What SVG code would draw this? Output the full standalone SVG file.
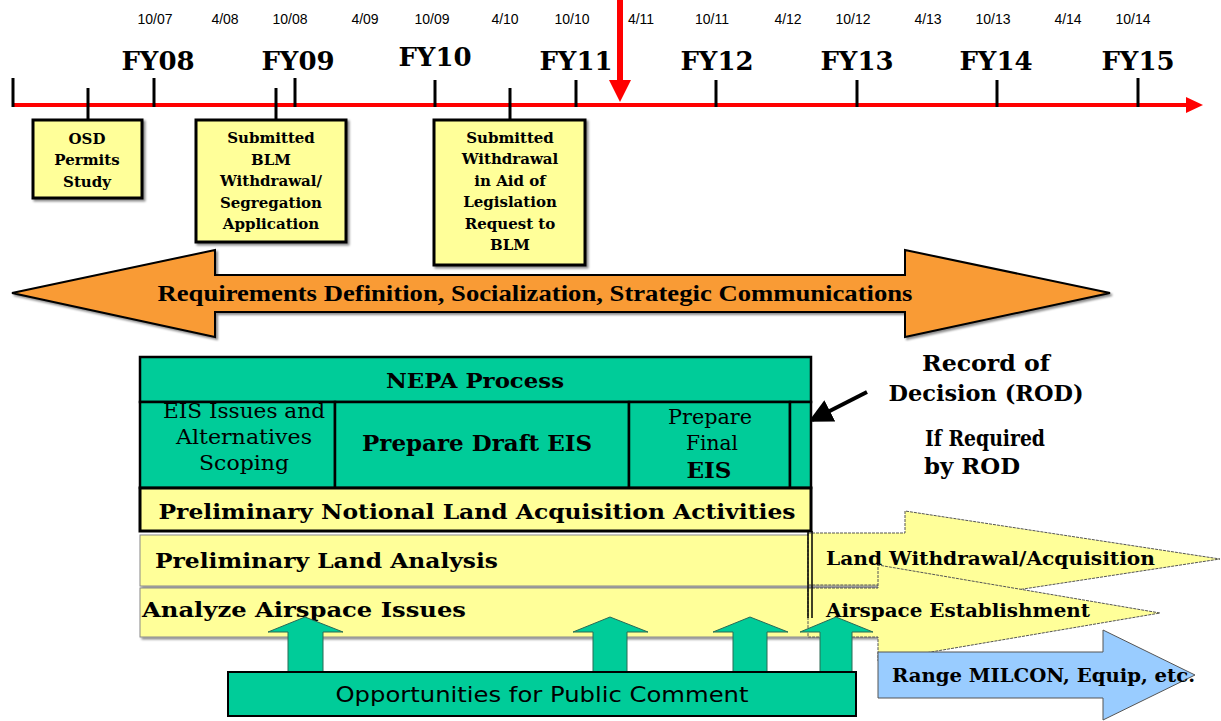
<svg xmlns="http://www.w3.org/2000/svg" width="1221" height="721" viewBox="0 0 1221 721">
<defs>
<style>
.date{font-family:"Liberation Sans",Arial,sans-serif;font-size:14px;fill:#000;text-anchor:middle}
.fy{font-family:"DejaVu Serif",serif;font-weight:bold;font-size:26px;fill:#000;text-anchor:middle}
.bx{font-family:"DejaVu Serif",serif;font-weight:bold;font-size:15px;fill:#000;text-anchor:middle}
.bold{font-family:"DejaVu Serif",serif;font-weight:bold;fill:#000}
.reg{font-family:"DejaVu Serif",serif;fill:#000}
.tick{stroke:#000;stroke-width:3}
.ybox{fill:#FFFF99;stroke:#000;stroke-width:3}
.teal{fill:#00CC99;stroke:#000;stroke-width:2.5}
.bar{fill:#FFFF99;stroke:#8a8a8a;stroke-width:1}
.up{fill:#00CC99;stroke:#2a6a55;stroke-width:1}
</style>
<filter id="sh" x="-5%" y="-5%" width="112%" height="115%">
<feDropShadow dx="2" dy="2" stdDeviation="1" flood-color="#000" flood-opacity="0.45"/>
</filter>
<marker id="ah" markerWidth="6" markerHeight="6" refX="5" refY="3" orient="auto" markerUnits="strokeWidth">
<path d="M0,0 L6,3 L0,6 z" fill="#000"/>
</marker>
</defs>

<g id="timeline">
<line x1="12" y1="105" x2="1190" y2="105" stroke="#FF0000" stroke-width="4"/>
<polygon points="1186,97 1203,105 1186,113" fill="#FF0000"/>
<line class="tick" x1="13" y1="78" x2="13" y2="107"/>
<line class="tick" x1="154" y1="78" x2="154" y2="107"/>
<line class="tick" x1="295" y1="78" x2="295" y2="107"/>
<line class="tick" x1="435" y1="80" x2="435" y2="107"/>
<line class="tick" x1="576" y1="80" x2="576" y2="107"/>
<line class="tick" x1="716" y1="80" x2="716" y2="107"/>
<line class="tick" x1="857" y1="80" x2="857" y2="107"/>
<line class="tick" x1="997" y1="80" x2="997" y2="107"/>
<line class="tick" x1="1138" y1="78" x2="1138" y2="107"/>
<text class="date" x="155" y="24">10/07</text>
<text class="date" x="225" y="24">4/08</text>
<text class="date" x="290" y="24">10/08</text>
<text class="date" x="365" y="24">4/09</text>
<text class="date" x="432" y="24">10/09</text>
<text class="date" x="505" y="24">4/10</text>
<text class="date" x="572" y="24">10/10</text>
<text class="date" x="641" y="24">4/11</text>
<text class="date" x="712" y="24">10/11</text>
<text class="date" x="788" y="24">4/12</text>
<text class="date" x="853" y="24">10/12</text>
<text class="date" x="928" y="24">4/13</text>
<text class="date" x="993" y="24">10/13</text>
<text class="date" x="1068" y="24">4/14</text>
<text class="date" x="1133" y="24">10/14</text>
<text class="fy" x="158" y="70">FY08</text>
<text class="fy" x="298" y="70">FY09</text>
<text class="fy" x="435" y="66">FY10</text>
<text class="fy" x="576" y="70">FY11</text>
<text class="fy" x="717" y="70">FY12</text>
<text class="fy" x="857" y="70">FY13</text>
<text class="fy" x="996" y="70">FY14</text>
<text class="fy" x="1138" y="70">FY15</text>
<line x1="620" y1="0" x2="620" y2="84" stroke="#FF0000" stroke-width="6"/>
<polygon points="609,80 631,80 620,102" fill="#FF0000"/>
</g>

<g id="connectors">
<line class="tick" x1="88" y1="88" x2="88" y2="120"/>
<line class="tick" x1="276" y1="88" x2="276" y2="120"/>
<line class="tick" x1="510" y1="88" x2="510" y2="120"/>
<line x1="867" y1="392" x2="812" y2="420" stroke="#000" stroke-width="4" marker-end="url(#ah)"/>
</g>

<g id="osd">
<rect class="ybox" x="33" y="120" width="109" height="78" filter="url(#sh)"/>
<text class="bx" x="87" y="144">OSD</text>
<text class="bx" x="87" y="165">Permits</text>
<text class="bx" x="87" y="187">Study</text>
</g>

<g id="blm">
<rect class="ybox" x="196" y="120" width="150" height="122" filter="url(#sh)"/>
<text class="bx" x="271" y="143">Submitted</text>
<text class="bx" x="271" y="165">BLM</text>
<text class="bx" x="271" y="186">Withdrawal/</text>
<text class="bx" x="271" y="208">Segregation</text>
<text class="bx" x="271" y="229">Application</text>
</g>

<g id="withdrawal">
<rect class="ybox" x="434" y="120" width="151" height="145" filter="url(#sh)"/>
<text class="bx" x="510" y="143">Submitted</text>
<text class="bx" x="510" y="164">Withdrawal</text>
<text class="bx" x="510" y="186">in Aid of</text>
<text class="bx" x="510" y="207">Legislation</text>
<text class="bx" x="510" y="229">Request to</text>
<text class="bx" x="510" y="250">BLM</text>
</g>

<g id="requirements">
<polygon points="12,293 215,250 215,275 905,275 905,250 1110,293 905,337 905,312 215,312 215,337" fill="#F99B35" stroke="#000" stroke-width="2" filter="url(#sh)"/>
<text x="535" y="301" font-family="Liberation Serif, serif" font-size="23" font-weight="bold" text-anchor="middle" textLength="755" lengthAdjust="spacingAndGlyphs">Requirements Definition, Socialization, Strategic Communications</text>
</g>

<g id="nepa">
<rect class="teal" x="140" y="357" width="671" height="45"/>
<text class="bold" x="475" y="388" font-size="21" text-anchor="middle" textLength="178" lengthAdjust="spacingAndGlyphs">NEPA Process</text>
<rect class="teal" x="140" y="402" width="195" height="86"/>
<text class="reg" x="244" y="418" font-size="21" text-anchor="middle" textLength="162" lengthAdjust="spacingAndGlyphs">EIS Issues and</text>
<text class="reg" x="244" y="444" font-size="21" text-anchor="middle" textLength="136" lengthAdjust="spacingAndGlyphs">Alternatives</text>
<text class="reg" x="244" y="470" font-size="21" text-anchor="middle" textLength="90" lengthAdjust="spacingAndGlyphs">Scoping</text>
<rect class="teal" x="335" y="402" width="294" height="86"/>
<text class="bold" x="477" y="451" font-size="22" text-anchor="middle" textLength="230" lengthAdjust="spacingAndGlyphs">Prepare Draft EIS</text>
<rect class="teal" x="629" y="402" width="161" height="86"/>
<text class="reg" x="710" y="424" font-size="21" text-anchor="middle" textLength="84" lengthAdjust="spacingAndGlyphs">Prepare</text>
<text class="reg" x="712" y="450" font-size="21" text-anchor="middle" textLength="52" lengthAdjust="spacingAndGlyphs">Final</text>
<text class="bold" x="709" y="478" font-size="22" text-anchor="middle" textLength="45" lengthAdjust="spacingAndGlyphs">EIS</text>
<rect class="teal" x="790" y="402" width="21" height="86"/>
<rect class="ybox" x="140" y="488" width="671" height="43"/>
<text class="bold" x="477" y="519" font-size="21" text-anchor="middle" textLength="637" lengthAdjust="spacingAndGlyphs">Preliminary Notional Land Acquisition Activities</text>
</g>

<g id="rod">
<text class="bold" x="986" y="371" font-size="22" text-anchor="middle" textLength="128" lengthAdjust="spacingAndGlyphs">Record of</text>
<text class="bold" x="986" y="401" font-size="22" text-anchor="middle" textLength="195" lengthAdjust="spacingAndGlyphs">Decision (ROD)</text>
<text class="bold" x="985" y="446" font-size="22" text-anchor="middle" textLength="120" lengthAdjust="spacingAndGlyphs">If Required</text>
<text class="bold" x="972" y="474" font-size="22" text-anchor="middle" textLength="96" lengthAdjust="spacingAndGlyphs">by ROD</text>
</g>

<g id="land-analysis">
<rect class="bar" x="140" y="535" width="738" height="51" filter="url(#sh)"/>
<text class="bold" x="155" y="568" font-size="21" textLength="343" lengthAdjust="spacingAndGlyphs">Preliminary Land Analysis</text>
</g>

<g id="airspace-issues">
<rect class="bar" x="140" y="588" width="738" height="49" filter="url(#sh)"/>
<text class="bold" x="142" y="617" font-size="21" textLength="324" lengthAdjust="spacingAndGlyphs">Analyze Airspace Issues</text>
</g>

<g id="land-withdrawal">
<polygon points="808,533 905,533 905,511 1220,559 905,607 905,585 808,585" fill="#FFFF99" stroke="#555" stroke-width="1" stroke-dasharray="3,1"/>
<text class="bold" x="826" y="565" font-size="19" textLength="329" lengthAdjust="spacingAndGlyphs">Land Withdrawal/Acquisition</text>
</g>

<g id="airspace-establishment">
<polygon points="808,588 878,588 878,565 1160,613 878,661 878,637 808,637" fill="#FFFF99" stroke="#555" stroke-width="1" stroke-dasharray="3,1"/>
<text class="bold" x="826" y="617" font-size="19" textLength="264" lengthAdjust="spacingAndGlyphs">Airspace Establishment</text>
</g>

<g id="divider">
<line x1="808" y1="531" x2="808" y2="618" stroke="#000" stroke-width="1.5"/>
<line x1="812" y1="531" x2="812" y2="618" stroke="#000" stroke-width="1.5"/>
</g>

<g id="range-milcon">
<polygon points="878,652 1103,652 1103,630 1195,675 1103,720 1103,698 878,698" fill="#99CCFF" stroke="#555" stroke-width="1"/>
<text class="bold" x="892" y="682" font-size="19" textLength="303" lengthAdjust="spacingAndGlyphs">Range MILCON, Equip, etc.</text>
</g>

<g id="comment-arrows">
<polygon class="up" points="288,673 288,632 268,632 305,617 343,632 323,632 323,673"/>
<polygon class="up" points="593,673 593,632 573,632 610,617 648,632 627,632 627,673"/>
<polygon class="up" points="733,673 733,632 713,632 750,617 788,632 767,632 767,673"/>
<polygon class="up" points="820,673 820,632 800,632 836,617 873,632 852,632 852,673"/>
</g>

<g id="public-comment">
<rect x="228" y="672" width="628" height="44" fill="#00CC99" stroke="#000" stroke-width="2"/>
<text x="542" y="702" font-family="DejaVu Sans, sans-serif" font-size="21" text-anchor="middle" textLength="413" lengthAdjust="spacingAndGlyphs" fill="#000">Opportunities for Public Comment</text>
</g>
</svg>
